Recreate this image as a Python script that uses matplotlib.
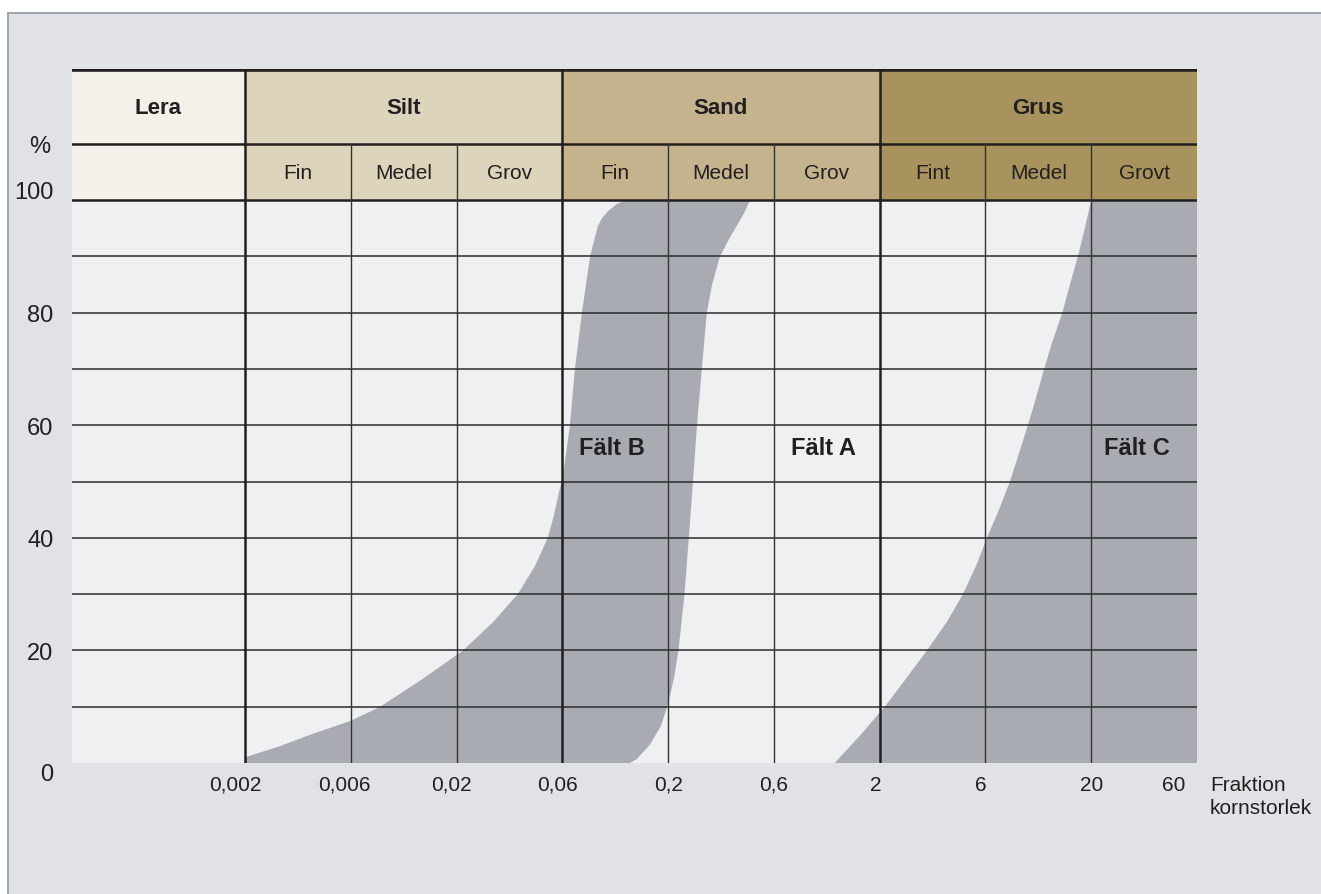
import numpy as np
import matplotlib.pyplot as plt
from matplotlib.patches import Rectangle
from matplotlib.lines import Line2D
from matplotlib.transforms import ScaledTranslation

plt.rcParams['font.family'] = ['Liberation Sans', 'DejaVu Sans']

# kornstorlek (mm) vid kolumngränserna
sizes = [0.002, 0.006, 0.02, 0.06, 0.2, 0.6, 2, 6, 20, 60]
size_labels = ['0,002', '0,006', '0,02', '0,06', '0,2', '0,6', '2', '6', '20', '60']
pct_ticks = [0, 20, 40, 60, 80, 100]

groups = ['Lera', 'Silt', 'Sand', 'Grus']
group_colors = ['#f4f0ea', '#ddd4bc', '#c4b38c', '#a8935e']
subs = ['Fin', 'Medel', 'Grov', 'Fin', 'Medel', 'Grov', 'Fint', 'Medel', 'Grovt']

# Fält B - vänster gräns (mm, % passerande)
b_left_mm = [0.002, 0.00288, 0.0038, 0.006, 0.0084, 0.0137, 0.0214, 0.0292, 0.0378,
             0.0452, 0.0516, 0.0550, 0.0579, 0.0605, 0.0654, 0.0693, 0.0750, 0.0823,
             0.0900, 0.0945, 0.1009, 0.1117, 0.118, 0.1295]
b_left_pct = [1.0, 3.0, 4.8, 7.5, 10, 15, 20, 25, 30,
              35, 40, 44, 48, 51, 60, 70, 80, 90,
              95.4, 96.8, 98, 99.3, 99.7, 100]
# Fält B - höger gräns
b_right_mm = [0.1295, 0.140, 0.163, 0.1845, 0.200, 0.2124, 0.2228, 0.2372, 0.248, 0.259,
              0.270, 0.284, 0.299, 0.316, 0.343, 0.376, 0.408, 0.445, 0.468]
b_right_pct = [0, 0.7, 3.3, 6.6, 10.5, 15, 20, 30, 40, 50,
               60, 70, 80, 85, 90, 93, 95.4, 98, 100]
# Fält C - vänster gräns
c_left_mm = [1.20, 1.61, 2.11, 2.63, 3.27, 4.01, 4.75, 5.44, 6.11, 7.00, 7.93, 8.79,
             9.73, 10.7, 11.7, 12.9, 14.4, 15.7, 17.2, 18.6, 20]
c_left_pct = [0, 5, 10, 15, 20, 25, 30, 35, 40, 45, 50, 55,
              60, 65, 70, 75, 80, 85, 90, 95, 100]

fields = [('Fält B', 3.47), ('Fält A', 5.47), ('Fält C', 8.43)]


def col(mm):
    return np.interp(np.log10(mm), np.log10(sizes), np.arange(len(sizes)))


W, H = 1321, 895
ink = '#231f20'
gray = '#a9abb3'
x0 = -1.635
ytop = 123.27

fig = plt.figure(figsize=(W / 100, H / 100), dpi=100)
fig.patch.set_facecolor('white')
fig.add_artist(Rectangle((8 / W, 0), 1 - 8 / W, 1 - 14 / H, transform=fig.transFigure,
                         facecolor='#e1e2e6', edgecolor='none', zorder=0))
fig.add_artist(Line2D([8 / W, 8 / W], [0, 1 - 14 / H], color='#9ea3b0', lw=1.4))
fig.add_artist(Line2D([8 / W, 1], [1 - 14 / H, 1 - 14 / H], color='#9ea3b0', lw=1.4))

ax = fig.add_axes([72 / W, 131 / H, 1125 / W, 694 / H])
ax.set_xlim(x0, 9)
ax.set_ylim(0, ytop)
ax.patch.set_alpha(0)
for s in ax.spines.values():
    s.set_visible(False)

# bakgrund och rubrikrutor
ax.add_patch(Rectangle((x0, 0), 9 - x0, 100, facecolor='#eff0f2', edgecolor='none', zorder=0))
edges = [x0, 0, 3, 6, 9]
for i, g in enumerate(groups):
    ax.add_patch(Rectangle((edges[i], 100), edges[i + 1] - edges[i], ytop - 100,
                           facecolor=group_colors[i], edgecolor='none', zorder=0))
    ax.text((edges[i] + edges[i + 1]) / 2, 116.4, g, ha='center', va='center',
            fontsize=16, fontweight='bold', color=ink, zorder=5)
for i, s in enumerate(subs):
    ax.text(i + 0.5, 104.8, s, ha='center', va='center', fontsize=15, color=ink, zorder=5)

# fält
bx = np.concatenate([[0], col(b_left_mm), col(b_right_mm)[::-1]])
by = np.concatenate([[0], b_left_pct, b_right_pct[::-1]])
ax.fill(bx, by, color=gray, lw=0, zorder=1)
cx = np.concatenate([col(c_left_mm), [9, 9]])
cy = np.concatenate([c_left_pct, [100, 0]])
ax.fill(cx, cy, color=gray, lw=0, zorder=1)

# rutnät
for y in range(10, 100, 10):
    ax.plot([x0, 9], [y, y], color='#2b2b2b', lw=1.1, zorder=3)
for y in (100, 110):
    ax.plot([x0, 9], [y, y], color=ink, lw=1.8, zorder=3)
ax.plot([x0, 9], [ytop - 0.2, ytop - 0.2], color=ink, lw=2.6, zorder=3)
for i in range(9):
    if i % 3 == 0:
        ax.plot([i, i], [0, ytop], color=ink, lw=1.8, zorder=3)
    else:
        ax.plot([i, i], [0, 110], color='#333333', lw=1.0, zorder=3)

for name, xc in fields:
    ax.text(xc, 56, name, ha='center', va='center', fontsize=17, fontweight='bold',
            color=ink, zorder=5)

ax.text(-1.94, 109.6, '%', ha='center', va='center', fontsize=17, color=ink)

ax.set_xticks(range(len(sizes)))
ax.set_xticklabels(size_labels, fontsize=15, color=ink)
ax.set_yticks(pct_ticks)
ax.set_yticklabels([str(p) for p in pct_ticks], fontsize=17, color=ink)
ax.tick_params(axis='x', length=0, pad=8.5)
ax.tick_params(axis='y', length=0, pad=13.5)

dxs = [-10, -6, -5, -5, 0, 0, -4, -5, 0, -23]
for lbl, dx in zip(ax.get_xticklabels(), dxs):
    lbl.set_transform(lbl.get_transform() + ScaledTranslation(dx / 100, 0, fig.dpi_scale_trans))
ylbls = ax.get_yticklabels()
ylbls[0].set_transform(ylbls[0].get_transform() + ScaledTranslation(0, -9 / 100, fig.dpi_scale_trans))
ylbls[-1].set_transform(ylbls[-1].get_transform() + ScaledTranslation(0, 11 / 100, fig.dpi_scale_trans))

fig.text(1210 / W, 1 - 776 / H, 'Fraktion\nkornstorlek', ha='left', va='top',
         fontsize=15, color=ink, linespacing=1.3)

fig.savefig('out.png', dpi=100)
